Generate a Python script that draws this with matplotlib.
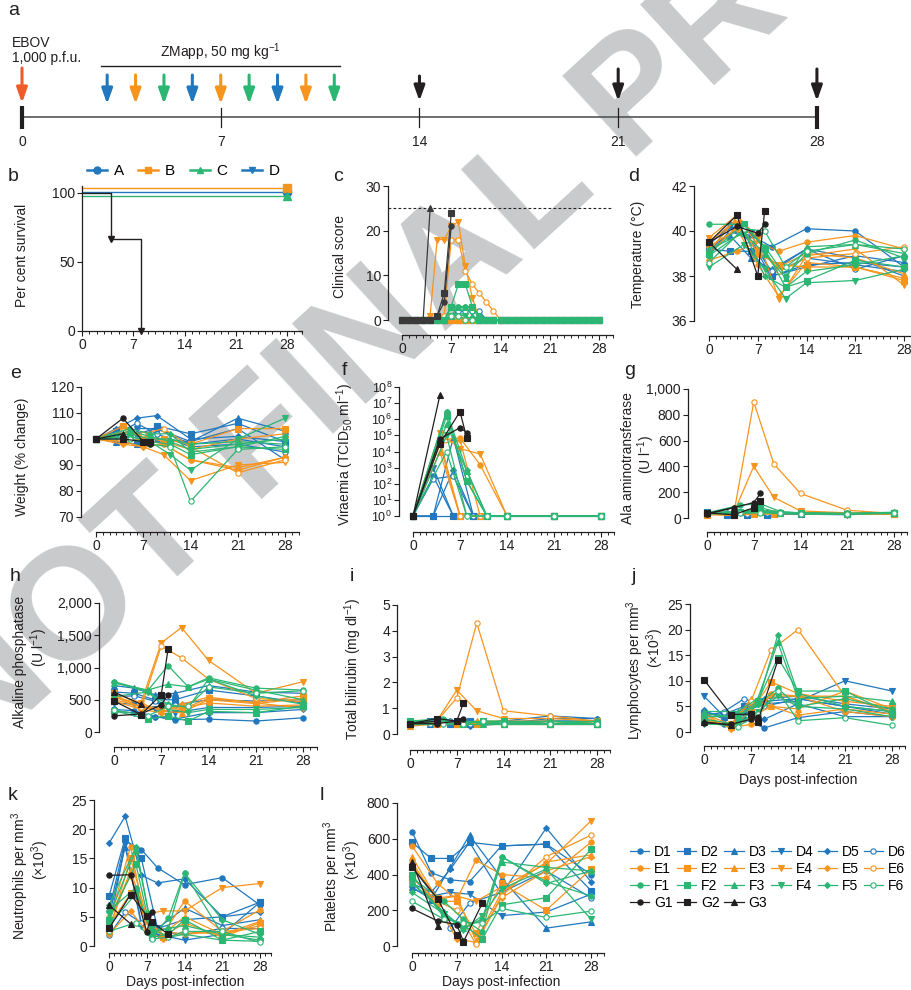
import matplotlib
matplotlib.use('Agg')
import matplotlib.pyplot as plt
from matplotlib.lines import Line2D
from matplotlib.ticker import MultipleLocator, FixedLocator, NullLocator

plt.rcParams['font.family'] = ['Liberation Sans', 'DejaVu Sans']
plt.rcParams['mathtext.fontset'] = 'custom'
plt.rcParams['mathtext.rm'] = 'Liberation Sans'
plt.rcParams['mathtext.it'] = 'Liberation Sans:italic'
plt.rcParams['mathtext.default'] = 'regular'

# ------------------------------------------------------------------ data
days_D = [0, 3, 6, 9, 14, 21, 28]
days_E = [0, 4, 7, 10, 14, 21, 28]
days_F = [0, 5, 8, 11, 14, 21, 28]
days_G = [0, 4, 7, 8, 11]
clin_days = list(range(29))

timeline_ticks = [0, 7, 14, 21, 28]
zmapp_days = [3, 4, 5, 6, 7, 8, 9, 10, 11]
zmapp_groups = ['D', 'E', 'F', 'D', 'E', 'F', 'D', 'E', 'F']
sample_days = [14, 21, 28]

surv_groups = ['A', 'B', 'C', 'D']
surv_days_treated = [0, 28]
surv_treated = [100, 100]
surv_days_ctrl = [0, 4, 8]
surv_ctrl = [100, 66.7, 0]

clin = {
    'D1': [0] * 29, 'D2': [0] * 29, 'D3': [0] * 29, 'D4': [0] * 29, 'D5': [0] * 29,
    'D6': [0] * 7 + [1, 2, 2, 2, 2] + [0] * 17,
    'E1': [0] * 5 + [1, 1, 1] + [0] * 21,
    'E2': [0] * 29, 'E3': [0] * 29,
    'E4': [0, 0, 0, 0, 1, 18, 18, 21, 22, 12, 5] + [0] * 18,
    'E5': [0] * 29,
    'E6': [0] * 6 + [1, 18, 18, 11, 8, 6, 4, 2] + [0] * 15,
    'F1': [0] * 7 + [3, 3, 3, 3, 1] + [0] * 17,
    'F2': [0] * 7 + [3, 8, 8, 3] + [0] * 18,
    'F3': [0] * 7 + [1, 3, 3, 1] + [0] * 18,
    'F4': [0] * 7 + [1, 1, 1] + [0] * 19,
    'F5': [0] * 7 + [3, 3, 3, 3, 1] + [0] * 17,
    'F6': [0] * 7 + [1, 1] + [0] * 20,
    'G1': [0, 0, 0, 0, 0, 1, 4, 21],
    'G2': [0, 0, 0, 0, 0, 1, 6, 24],
    'G3': [0, 0, 0, 0, 25],
}

temp = {
    'D1': [39.0, 40.0, 39.8, 39.3, 40.1, 40.0, 38.4],
    'D2': [39.2, 39.1, 39.1, 38.0, 38.5, 38.6, 38.4],
    'D3': [39.3, 39.8, 38.8, 38.3, 39.2, 38.8, 38.0],
    'D4': [39.4, 40.2, 39.9, 38.1, 38.8, 38.5, 38.2],
    'D5': [39.0, 40.3, 39.5, 38.0, 38.4, 38.9, 38.6],
    'D6': [38.9, 40.0, 39.6, 38.2, 39.2, 38.3, 38.9],
    'E1': [38.7, 39.1, 39.5, 39.1, 39.5, 39.8, 39.2],
    'E2': [39.5, 40.5, 39.0, 38.5, 38.4, 38.4, 37.8],
    'E3': [39.0, 40.2, 39.3, 38.4, 39.0, 38.8, 38.1],
    'E4': [39.7, 40.7, 39.7, 37.0, 38.9, 39.2, 37.6],
    'E5': [39.3, 40.1, 38.5, 37.1, 38.6, 38.4, 37.9],
    'E6': [39.1, 40.6, 39.4, 38.2, 38.8, 39.0, 39.3],
    'F1': [40.3, 40.3, 39.3, 38.0, 39.0, 39.6, 38.8],
    'F2': [39.0, 40.3, 39.2, 37.5, 37.8, 38.7, 38.4],
    'F3': [39.2, 39.9, 39.0, 37.9, 39.3, 39.4, 39.0],
    'F4': [38.4, 39.4, 38.3, 37.0, 37.7, 37.8, 38.3],
    'F5': [38.9, 40.0, 38.0, 37.5, 38.2, 38.5, 38.9],
    'F6': [38.6, 40.1, 40.0, 38.4, 39.1, 39.4, 39.2],
    'G1': [39.5, 40.2, 39.9, 40.3],
    'G2': [39.5, 40.7, 38.0, 40.9],
    'G3': [39.5, 38.3],
}

weight = {
    'D1': [100, 103, 102, 104, 98, 100, 97],
    'D2': [100, 103, 99, 105, 102, 106, 99],
    'D3': [100, 99, 98, 100, 99, 108, 103],
    'D4': [100, 101, 104, 104, 99, 104, 92],
    'D5': [100, 104, 108, 109, 100, 101, 99],
    'D6': [100, 102, 106, 102, 97, 98, 95],
    'E1': [100, 99, 100, 98, 92, 89, 93],
    'E2': [100, 105, 101, 100, 98, 104, 104],
    'E3': [100, 103, 101, 99, 96, 100, 102],
    'E4': [100, 99, 97, 94, 84, 90, 91],
    'E5': [100, 98, 97, 98, 92, 88, 93],
    'E6': [100, 103, 102, 104, 97, 87, 92],
    'F1': [100, 103, 101, 99, 96, 98, 100],
    'F2': [100, 101, 99, 98, 94, 97, 96],
    'F3': [100, 102, 100, 100, 98, 99, 98],
    'F4': [100, 101, 99, 94, 88, 100, 108],
    'F5': [100, 104, 102, 102, 95, 97, 101],
    'F6': [100, 100, 98, 97, 76, 96, 97],
    'G1': [100, 108, 99, 98],
    'G2': [100, 100, 99, 99],
    'G3': [100, 102],
}

viraemia = {
    'D1': [1, 300, 1, 1, 1, 1, 1],
    'D2': [1, 1, 1, 1, 1, 1, 1],
    'D3': [1, 1, 7e4, 1, 1, 1, 1],
    'D4': [1, 1e3, 1, 1, 1, 1, 1],
    'D5': [1, 1, 700, 1, 1, 1, 1],
    'D6': [1, 200, 300, 1, 1, 1, 1],
    'E1': [1, 5e4, 7e4, 1500, 1, 1, 1],
    'E2': [1, 3e4, 1, 1, 1, 1, 1],
    'E3': [1, 1e4, 1, 1, 1, 1, 1],
    'E4': [1, 1.5e5, 1.5e4, 7e3, 1, 1, 1],
    'E5': [1, 3e4, 5e4, 1, 1, 1, 1],
    'E6': [1, 5e4, 1, 1, 1, 1, 1],
    'F1': [1, 3e6, 150, 1, 1, 1, 1],
    'F2': [1, 1.5e6, 150, 1, 1, 1, 1],
    'F3': [1, 5e5, 600, 1, 1, 1, 1],
    'F4': [1, 1e5, 1, 1, 1, 1, 1],
    'F5': [1, 3e6, 700, 1, 1, 1, 1],
    'F6': [1, 1e4, 1, 1, 1, 1, 1],
    'G1': [1, 6e4, 3e5, 1.5e5],
    'G2': [1, 3e4, 3e6, 7e4],
    'G3': [1, 3e7],
}

alt = {
    'D1': [40, 30, 30, 40, 30, 30, 35],
    'D2': [50, 25, 20, 25, 35, 30, 40],
    'D3': [30, 40, 50, 40, 30, 35, 30],
    'D4': [35, 25, 25, 30, 30, 25, 40],
    'D5': [40, 30, 40, 30, 40, 30, 35],
    'D6': [45, 35, 30, 35, 40, 35, 40],
    'E1': [30, 40, 60, 40, 35, 30, 35],
    'E2': [25, 20, 30, 30, 35, 30, 30],
    'E3': [35, 30, 50, 40, 40, 35, 35],
    'E4': [30, 40, 400, 160, 55, 40, 35],
    'E5': [30, 35, 40, 35, 35, 30, 30],
    'E6': [35, 30, 900, 420, 190, 60, 35],
    'F1': [40, 100, 110, 50, 40, 35, 40],
    'F2': [40, 50, 80, 40, 35, 30, 40],
    'F3': [35, 45, 50, 40, 35, 35, 40],
    'F4': [30, 40, 50, 35, 35, 30, 35],
    'F5': [45, 50, 60, 45, 40, 35, 45],
    'F6': [40, 35, 40, 35, 30, 30, 40],
    'G1': [30, 80, 120, 190],
    'G2': [40, 25, 80, 130],
    'G3': [35, 80],
}

alp = {
    'D1': [350, 330, 240, 190, 200, 170, 220],
    'D2': [620, 600, 500, 500, 650, 560, 450],
    'D3': [720, 680, 580, 600, 720, 620, 600],
    'D4': [450, 430, 350, 300, 380, 380, 400],
    'D5': [320, 300, 240, 200, 300, 300, 350],
    'D6': [550, 560, 480, 420, 500, 480, 500],
    'E1': [560, 350, 380, 370, 450, 400, 420],
    'E2': [500, 400, 370, 350, 520, 460, 560],
    'E3': [530, 450, 320, 300, 500, 440, 520],
    'E4': [600, 450, 1380, 1620, 1110, 600, 780],
    'E5': [480, 350, 300, 430, 540, 450, 370],
    'E6': [580, 380, 1330, 1150, 820, 520, 470],
    'F1': [780, 640, 1030, 700, 840, 680, 650],
    'F2': [330, 200, 250, 170, 320, 300, 400],
    'F3': [760, 650, 740, 700, 820, 650, 500],
    'F4': [550, 620, 350, 300, 350, 350, 380],
    'F5': [770, 620, 430, 380, 820, 560, 430],
    'F6': [340, 250, 400, 400, 700, 600, 640],
    'G1': [250, 280, 420, 580],
    'G2': [480, 270, 580, 1280],
    'G3': [620, 430],
}

bili = {
    'D1': [0.5, 0.4, 0.4, 0.4, 0.5, 0.7, 0.6],
    'D2': [0.4, 0.5, 0.4, 0.5, 0.4, 0.5, 0.5],
    'D3': [0.5, 0.4, 0.5, 0.4, 0.5, 0.4, 0.4],
    'D4': [0.4, 0.4, 0.4, 0.4, 0.4, 0.5, 0.5],
    'D5': [0.4, 0.5, 0.4, 0.3, 0.4, 0.6, 0.6],
    'D6': [0.5, 0.4, 0.5, 0.4, 0.5, 0.5, 0.4],
    'E1': [0.3, 0.4, 0.4, 0.4, 0.5, 0.5, 0.4],
    'E2': [0.4, 0.4, 0.4, 0.4, 0.4, 0.4, 0.4],
    'E3': [0.3, 0.5, 0.4, 0.5, 0.5, 0.4, 0.5],
    'E4': [0.3, 0.5, 1.7, 0.9, 0.6, 0.6, 0.5],
    'E5': [0.4, 0.4, 0.5, 0.4, 0.4, 0.5, 0.4],
    'E6': [0.4, 0.5, 1.4, 4.3, 0.9, 0.7, 0.5],
    'F1': [0.5, 0.6, 0.4, 0.5, 0.4, 0.4, 0.5],
    'F2': [0.5, 0.5, 0.4, 0.5, 0.5, 0.4, 0.4],
    'F3': [0.4, 0.5, 0.5, 0.4, 0.4, 0.5, 0.4],
    'F4': [0.4, 0.4, 0.4, 0.4, 0.4, 0.4, 0.4],
    'F5': [0.5, 0.5, 0.5, 0.5, 0.5, 0.5, 0.5],
    'F6': [0.4, 0.4, 0.4, 0.5, 0.4, 0.4, 0.4],
    'G1': [0.4, 0.4, 0.5, 0.6],
    'G2': [0.4, 0.6, 0.5, 1.2],
    'G3': [0.4, 0.5],
}

lymph = {
    'D1': [2.0, 1.5, 2.5, 0.8, 2.8, 4.0, 3.0],
    'D2': [3.5, 3.5, 5.0, 6.0, 6.5, 5.0, 3.5],
    'D3': [4.0, 3.0, 4.5, 6.5, 7.0, 5.5, 4.5],
    'D4': [7.0, 3.0, 4.0, 5.5, 6.0, 10.0, 8.0],
    'D5': [4.2, 2.5, 3.5, 2.5, 5.5, 3.0, 3.0],
    'D6': [3.0, 4.0, 6.5, 5.0, 6.5, 5.0, 4.0],
    'E1': [3.0, 0.8, 1.5, 7.5, 7.0, 4.0, 3.0],
    'E2': [2.5, 1.0, 4.0, 9.8, 7.5, 6.0, 5.0],
    'E3': [3.5, 1.5, 6.5, 5.0, 4.5, 8.0, 4.5],
    'E4': [2.0, 1.5, 5.0, 7.0, 7.0, 7.0, 4.0],
    'E5': [3.5, 0.6, 3.0, 5.0, 3.3, 4.5, 3.5],
    'E6': [2.5, 1.2, 6.0, 16.0, 20.0, 7.0, 3.8],
    'F1': [3.5, 3.0, 5.5, 8.5, 5.0, 6.5, 4.5],
    'F2': [3.0, 3.0, 6.0, 14.5, 8.0, 8.0, 3.5],
    'F3': [4.0, 4.0, 6.5, 17.5, 6.5, 7.0, 6.0],
    'F4': [1.5, 1.5, 4.0, 7.0, 5.0, 4.5, 3.0],
    'F5': [2.5, 1.5, 5.5, 19.0, 7.5, 5.0, 4.0],
    'F6': [1.8, 1.0, 3.5, 8.0, 2.2, 2.8, 1.3],
    'G1': [1.8, 1.5, 2.5, 3.0],
    'G2': [10.2, 3.4, 3.5, 2.0, 14.0],
    'G3': [2.0, 1.3],
}

neut = {
    'D1': [6.0, 18.0, 16.5, 13.4, 10.5, 11.7, 7.0],
    'D2': [8.5, 18.5, 15.0, 3.0, 4.5, 5.0, 7.5],
    'D3': [5.0, 17.0, 4.0, 3.0, 6.5, 3.5, 4.5],
    'D4': [3.0, 17.5, 3.5, 2.0, 1.0, 2.0, 7.5],
    'D5': [17.6, 22.2, 12.1, 10.8, 11.5, 5.0, 5.8],
    'D6': [1.8, 5.8, 4.0, 2.5, 2.0, 3.0, 3.0],
    'E1': [4.0, 17.0, 3.0, 2.0, 7.7, 2.5, 6.2],
    'E2': [2.5, 15.0, 5.0, 1.5, 4.0, 1.5, 4.0],
    'E3': [3.0, 13.0, 4.5, 2.0, 5.0, 2.0, 3.5],
    'E4': [3.5, 9.0, 5.5, 6.0, 6.0, 10.0, 10.7],
    'E5': [2.0, 6.0, 2.5, 1.2, 2.5, 2.0, 4.2],
    'E6': [5.0, 12.0, 3.5, 2.5, 2.0, 2.5, 3.0],
    'F1': [6.0, 10.0, 1.5, 4.8, 12.5, 2.0, 1.0],
    'F2': [4.5, 14.0, 1.5, 2.0, 4.5, 1.0, 2.5],
    'F3': [5.0, 16.5, 2.5, 3.0, 3.5, 2.0, 1.5],
    'F4': [3.5, 9.0, 3.0, 1.5, 2.0, 1.0, 0.8],
    'F5': [7.0, 17.0, 2.5, 3.0, 12.5, 4.5, 2.0],
    'F6': [2.5, 4.0, 1.2, 1.5, 2.5, 2.5, 0.6],
    'G1': [12.1, 12.2, 2.4, 5.8],
    'G2': [3.0, 8.8, 5.2, 4.1, 2.0],
    'G3': [7.0, 3.8],
}

platelets = {
    'D1': [640, 410, 370, 360, 560, 570, 400],
    'D2': [580, 490, 490, 580, 560, 570, 310],
    'D3': [330, 260, 440, 620, 380, 100, 135],
    'D4': [320, 280, 300, 290, 170, 190, 290],
    'D5': [450, 300, 430, 580, 290, 660, 360],
    'D6': [350, 300, 100, 240, 300, 420, 270],
    'E1': [560, 350, 260, 480, 400, 380, 580],
    'E2': [380, 250, 250, 70, 350, 200, 430],
    'E3': [500, 260, 280, 30, 300, 470, 510],
    'E4': [450, 270, 280, 250, 330, 460, 700],
    'E5': [390, 230, 40, 20, 270, 420, 500],
    'E6': [470, 250, 200, 10, 280, 500, 620],
    'F1': [380, 250, 150, 80, 500, 360, 280],
    'F2': [400, 160, 120, 40, 230, 270, 540],
    'F3': [350, 190, 100, 150, 470, 440, 420],
    'F4': [360, 180, 90, 170, 320, 430, 150],
    'F5': [300, 180, 100, 150, 500, 350, 420],
    'F6': [250, 150, 130, 130, 210, 160, 195],
    'G1': [210, 140, 120, 30],
    'G2': [440, 265, 60, 20, 240],
    'G3': [470, 110],
}

# ------------------------------------------------------------------ style
W, H = 911, 990
BLUE, ORANGE, GREEN, BLACK = '#2178be', '#f7941d', '#2bb673', '#231f20'
RED = '#f15a29'
WM = '#c9cacb'
GROUP_COLOR = {'D': BLUE, 'E': ORANGE, 'F': GREEN, 'G': BLACK,
               'A': BLUE, 'B': ORANGE, 'C': GREEN}
MARKERS = {'1': 'o', '2': 's', '3': '^', '4': 'v', '5': 'D', '6': 'o'}
DAYS = {'D': days_D, 'E': days_E, 'F': days_F, 'G': days_G}
ORDER = [g + str(i) for g in 'DEF' for i in range(1, 7)] + ['G1', 'G2', 'G3']
FS = 10

fig = plt.figure(figsize=(W / 100, H / 100), dpi=100)

# watermark (behind everything)
fig.text(-24 / W, 1 - 762 / H, 'NOT FINAL PROOF', rotation=42.5, rotation_mode='anchor',
         ha='left', va='baseline', fontsize=114, fontweight='bold', color=WM, zorder=-5)


def sty(name):
    c = GROUP_COLOR[name[0]]
    m = MARKERS[name[1]]
    return dict(color=c, marker=m, mfc='white' if name[1] == '6' else c, mec=c,
                ms=3.0 if m == 'D' else 3.8, lw=0.9, mew=0.8)


def make_panel(day0, day28, ylo, yhi, yaxis_x, xaxis_y, ylim, yticks, yticklabels=None,
               log=False, yfs=FS):
    ppd = (day28 - day0) / 28.0
    ax = fig.add_axes([day0 / W, 1 - ylo / H, 30 * ppd / W, (ylo - yhi) / H])
    ax.set_facecolor('none')
    if log:
        ax.set_yscale('log')
    ax.set_xlim(0, 30)
    ax.set_ylim(*ylim)
    for s in ['top', 'right']:
        ax.spines[s].set_visible(False)
    for s in ['left', 'bottom']:
        ax.spines[s].set_color(BLACK)
        ax.spines[s].set_linewidth(0.9)
    ax.spines['left'].set_position(('outward', (day0 - yaxis_x) * 0.72))
    ax.spines['bottom'].set_position(('outward', (xaxis_y - ylo) * 0.72))
    ax.xaxis.set_major_locator(FixedLocator(timeline_ticks))
    ax.xaxis.set_minor_locator(MultipleLocator(1))
    ax.yaxis.set_major_locator(FixedLocator(yticks))
    ax.yaxis.set_minor_locator(NullLocator())
    if yticklabels is not None:
        ax.set_yticklabels(yticklabels)
    ax.tick_params(axis='both', which='major', direction='out', length=3.5, width=0.8,
                   color=BLACK, labelsize=FS, labelcolor=BLACK, pad=1.5)
    ax.tick_params(axis='y', labelsize=yfs)
    ax.tick_params(axis='x', which='minor', direction='out', length=2.2, width=0.7,
                   color=BLACK)
    return ax


def draw_series(ax, data, order=ORDER):
    for name in order:
        vals = data[name]
        days = DAYS[name[0]][:len(vals)]
        ax.plot(days, vals, clip_on=False, zorder=3 if name[0] == 'G' else 2,
                **sty(name))


def ylab(x, y, text):
    fig.text(x / W, 1 - y / H, text, rotation=90, ha='center', va='center', fontsize=FS,
             color=BLACK)


def letter(x, y, t):
    fig.text(x / W, 1 - y / H, t, ha='left', va='top', fontsize=14, color=BLACK)


def xlab(x, y, text):
    fig.text(x / W, 1 - y / H, text, ha='center', va='center', fontsize=FS, color=BLACK)


# ------------------------------------------------------------------ panel a
axa = fig.add_axes([0, 0, 1, 1])
axa.set_facecolor('none')
axa.axis('off')
A0, APD = 22, 28.39
axa.set_xlim(-A0 / APD, (W - A0) / APD)
axa.set_ylim(H, 0)
axa.plot([0, 28], [117, 117], color='#555555', lw=1.2, solid_capstyle='butt')
for d in timeline_ticks:
    if d in (0, 28):
        axa.plot([d, d], [106, 129], color=BLACK, lw=3, solid_capstyle='butt')
    else:
        axa.plot([d, d], [108, 127], color=BLACK, lw=0.9)
    axa.text(d, 142, str(d), ha='center', va='center', fontsize=FS, color=BLACK)
arrow_kw = dict(arrowstyle='-|>,head_length=0.9,head_width=0.32', lw=2.2,
                shrinkA=0, shrinkB=0)
axa.annotate('', xy=(0, 103), xytext=(0, 68), arrowprops=dict(color=RED, **arrow_kw))
for d, g in zip(zmapp_days, zmapp_groups):
    axa.annotate('', xy=(d, 104), xytext=(d, 75),
                 arrowprops=dict(color=GROUP_COLOR[g], **arrow_kw))
for d in sample_days:
    top = 76 if d == 14 else 69
    axa.annotate('', xy=(d, 101), xytext=(d, top),
                 arrowprops=dict(color=BLACK, **arrow_kw))
axa.plot([2.8, 11.2], [66, 66], color=BLACK, lw=1.0)
axa.text(7, 52, 'ZMapp, 50 mg kg$^{-1}$', ha='center', va='center', fontsize=FS,
         color=BLACK)
fig.text(12 / W, 1 - 43 / H, 'EBOV', ha='left', va='center', fontsize=FS, color=BLACK)
fig.text(12 / W, 1 - 58 / H, '1,000 p.f.u.', ha='left', va='center', fontsize=FS,
         color=BLACK)
letter(8, 2, 'a')

# ------------------------------------------------------------------ panel b
axb = make_panel(82, 287, 331, 186, 82, 331, (0, 105), [0, 50, 100])
offs = {'A': 1.0, 'B': 3.5, 'C': -2.0}
mk = {'A': 'o', 'B': 's', 'C': '^', 'D': 'v'}
handles = []
for g in surv_groups[:3]:
    c = GROUP_COLOR[g]
    y = [v + offs[g] for v in surv_treated]
    axb.plot(surv_days_treated, y, color=c, lw=1.0, clip_on=False)
    axb.plot(surv_days_treated[-1:], y[-1:], ls='none', marker=mk[g], color=c, ms=6,
             clip_on=False)
axb.step(surv_days_ctrl, surv_ctrl, where='post', color=BLACK, lw=1.0, clip_on=False)
axb.plot(surv_days_ctrl[1:], surv_ctrl[1:], ls='none', marker='v', color=BLACK, ms=5,
         clip_on=False)
for g in surv_groups:
    handles.append(Line2D([], [], color=GROUP_COLOR[g], marker=mk[g], ms=5, lw=1.8))
fig.legend(handles, surv_groups, ncol=4, loc='center left',
           bbox_to_anchor=(87 / W, 1 - 171 / H), frameon=False, fontsize=FS + 1,
           handlelength=1.3, handletextpad=0.45, columnspacing=0.95, borderpad=0,
           borderaxespad=0)
ylab(22, 255, 'Per cent survival')
letter(8, 168, 'b')

# ------------------------------------------------------------------ panel c
axc = make_panel(402, 599, 320, 186, 388, 335, (0, 30), [0, 10, 20, 30])
clin_order = [n for n in ORDER if n != 'F2']
clin_order.insert(clin_order.index('G1'), 'F2')
for name in clin_order:
    vals = clin[name]
    c = '#3a3a3a' if name[0] == 'G' else GROUP_COLOR[name[0]]
    s = sty(name)
    s['color'] = c
    s['mec'] = c
    if name[1] != '6':
        s['mfc'] = c
    axc.plot(clin_days[:len(vals)], vals, clip_on=False,
             zorder=3 if name[0] == 'G' else 2, **s)
axc.plot([-2.0, 30], [25, 25], ls=(0, (2.5, 2)), color=BLACK, lw=0.8, clip_on=False)
ylab(340, 256, 'Clinical score')
letter(333, 168, 'c')

# ------------------------------------------------------------------ panel d
axd = make_panel(709, 904, 321, 186, 694, 336, (36, 42), [36, 38, 40, 42])
draw_series(axd, temp)
ylab(638, 254, 'Temperature (°C)')
letter(628, 168, 'd')

# ------------------------------------------------------------------ panel e
axe = make_panel(96, 285, 517, 387, 81, 532, (70, 120), [70, 80, 90, 100, 110, 120])
draw_series(axe, weight)
ylab(22, 457, 'Weight (% change)')
letter(10, 365, 'e')

# ------------------------------------------------------------------ panel f
axf = make_panel(413, 601, 516, 387, 399, 532, (1, 1e8), [10 ** k for k in range(9)],
                 ['$10^{%d}$' % k for k in range(9)], log=True, yfs=9)
draw_series(axf, viraemia)
ylab(345, 455, 'Viraemia (TCID$_{50}$ ml$^{-1}$)')
letter(342, 362, 'f')

# ------------------------------------------------------------------ panel g
axg = make_panel(707, 894, 518, 389, 688, 532, (0, 1000), [0, 200, 400, 600, 800, 1000],
                 ['0', '200', '400', '600', '800', '1,000'])
draw_series(axg, alt)
ylab(628, 458, 'Ala aminotransferase')
ylab(646, 455, '(U l$^{-1}$)')
letter(624, 362, 'g')

# ------------------------------------------------------------------ panel h
axh = make_panel(114, 303, 732, 603, 99, 747, (0, 2000), [0, 500, 1000, 1500, 2000],
                 ['0', '500', '1,000', '1,500', '2,000'])
draw_series(axh, alp)
ylab(20, 662, 'Alkaline phosphatase')
ylab(39, 648, '(U l$^{-1}$)')
letter(10, 568, 'h')

# ------------------------------------------------------------------ panel i
axi = make_panel(410, 597, 734, 605, 397, 750, (0, 5), [0, 1, 2, 3, 4, 5])
draw_series(axi, bili)
ylab(353, 669, 'Total bilirubin (mg dl$^{-1}$)')
letter(350, 568, 'i')

# ------------------------------------------------------------------ panel j
axj = make_panel(704, 892, 732, 604, 690, 746, (0, 25), [0, 5, 10, 15, 20, 25])
draw_series(axj, lymph)
ylab(635, 670, 'Lymphocytes per mm$^{3}$')
ylab(655, 648, '(×10$^{3}$)')
xlab(798, 780, 'Days post-infection')
letter(632, 568, 'j')

# ------------------------------------------------------------------ panel k
axk = make_panel(109, 260, 946, 800, 94, 953, (0, 25), [0, 5, 10, 15, 20, 25])
draw_series(axk, neut)
ylab(20, 876, 'Neutrophils per mm$^{3}$')
ylab(40, 860, '(×10$^{3}$)')
xlab(185, 982, 'Days post-infection')
letter(8, 787, 'k')

# ------------------------------------------------------------------ panel l
axl = make_panel(412, 591, 946, 803, 397, 953, (0, 800), [0, 200, 400, 600, 800])
draw_series(axl, platelets)
ylab(332, 876, 'Platelets per mm$^{3}$')
ylab(352, 860, '(×10$^{3}$)')
xlab(501, 982, 'Days post-infection')
letter(320, 787, 'l')

# ------------------------------------------------------------------ legend
leg_names = []
for c in range(6):
    for g in 'DEFG':
        name = g + str(c + 1)
        if name in temp:
            leg_names.append(name)
leg_handles = [Line2D([], [], **sty(n)) for n in leg_names]
fig.legend(leg_handles, leg_names, ncol=6, loc='upper left',
           bbox_to_anchor=(630 / W, 1 - 845 / H), frameon=False, fontsize=FS,
           handlelength=1.4, handletextpad=0.35, columnspacing=0.3, labelspacing=0.22,
           borderpad=0, borderaxespad=0)

fig.savefig('out.png', dpi=100)
